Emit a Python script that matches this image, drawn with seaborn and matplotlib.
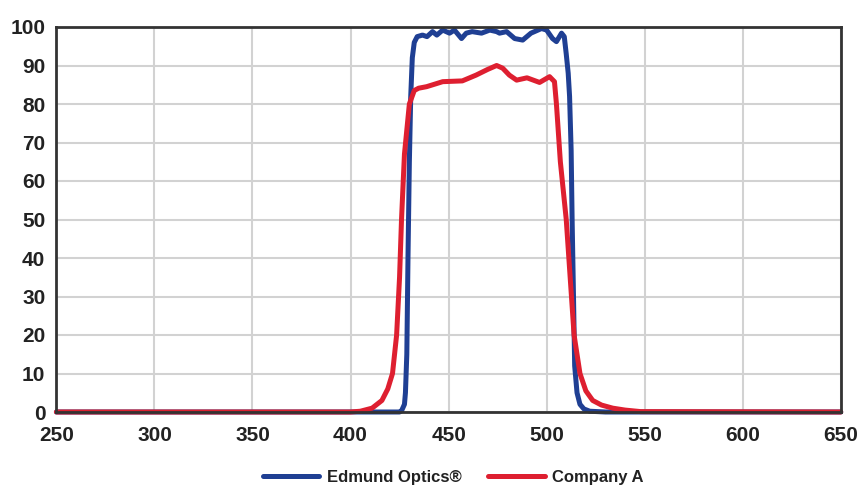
import matplotlib
matplotlib.use("Agg")
import matplotlib.pyplot as plt
import seaborn as sns
import pandas as pd

# transmission curves (wavelength nm, transmission %)
edmund_wl = [250, 420, 425, 426, 427.5, 428, 428.7, 429.3, 430, 430.7, 431.5, 432.5,
             434, 436.7, 439, 441.8, 444, 447, 450.5, 453, 456.6, 459, 462, 466.8,
             471, 474.5, 476, 479.6, 483.7, 487.8, 492, 497.4, 500, 503, 505, 507.6,
             509, 510, 511, 511.7, 512.5, 513, 513.7, 514.3, 515.5, 517, 519, 522, 530, 650]
edmund_t = [0, 0, 0, 0.3, 2, 5, 15, 40, 65, 82, 92, 96,
            97.5, 97.9, 97.5, 98.8, 97.9, 99.2, 98.4, 99.2, 97, 98.4, 98.8, 98.4,
            99.2, 98.8, 98.4, 98.8, 97, 96.6, 98.4, 99.6, 99.2, 97, 96.2, 98.4,
            97.5, 93, 88, 82, 68, 50, 30, 12, 5, 2, 0.8, 0.2, 0, 0]

company_wl = [250, 400, 405, 411, 416, 419, 421.4, 423.5, 425, 426, 427.5, 430, 432.5,
              434.7, 438.8, 447, 457, 464, 470, 474.5, 477.6, 481, 484.7, 490, 496.4,
              501.5, 504, 505, 507, 510, 512, 514, 517, 520, 523.5, 528, 533.7, 540,
              548, 650]
company_t = [0, 0, 0.2, 1, 3, 6, 10, 20, 35, 50, 67, 80, 83.5,
             84.1, 84.5, 85.8, 86, 87.5, 89, 90, 89.3, 87.5, 86.2, 86.8, 85.6,
             87.1, 85.8, 80, 65, 50, 35, 20, 10, 5.5, 3, 1.8, 1, 0.5,
             0.1, 0]

series_names = ["Edmund Optics®", "Company A"]
x_ticks = [250, 300, 350, 400, 450, 500, 550, 600, 650]
y_ticks = [0, 10, 20, 30, 40, 50, 60, 70, 80, 90, 100]

df = pd.concat([
    pd.DataFrame({"wl": edmund_wl, "T": edmund_t, "series": series_names[0]}),
    pd.DataFrame({"wl": company_wl, "T": company_t, "series": series_names[1]}),
])

sns.set_style("white")
plt.rcParams["font.family"] = ["Liberation Sans", "DejaVu Sans"]
plt.rcParams["font.weight"] = "bold"

fig = plt.figure(figsize=(8.61, 5), dpi=100)
ax = fig.add_axes([0.0655, 0.176, 0.911, 0.770])

sns.lineplot(data=df, x="wl", y="T", hue="series", sort=False,
             palette={series_names[0]: "#1f3f93", series_names[1]: "#de1f30"},
             hue_order=series_names, linewidth=3.6, ax=ax, estimator=None)
for ln in ax.get_lines():
    ln.set_clip_on(False)

ax.set_xlim(250, 650)
ax.set_ylim(0, 100)
ax.set_xticks(x_ticks)
ax.set_yticks(y_ticks)
ax.grid(True, color="#d2d2d2", linewidth=1.5)
ax.set_axisbelow(True)
for s in ax.spines.values():
    s.set_color("#333333")
    s.set_linewidth(2)
ax.tick_params(length=0, labelsize=15, colors="#222222")
ax.tick_params(axis="y", pad=8)
ax.tick_params(axis="x", pad=10)
ax.set_xlabel("")
ax.set_ylabel("")

leg = ax.legend(loc="upper center", bbox_to_anchor=(0.506, -0.112), ncol=2, frameon=False,
                fontsize=12, handlelength=3.4, columnspacing=1.6, handletextpad=0.45)
for t in leg.get_texts():
    t.set_color("#222222")
for h in leg.get_lines():
    h.set_linewidth(3.6)

fig.savefig("out.png", dpi=100)
